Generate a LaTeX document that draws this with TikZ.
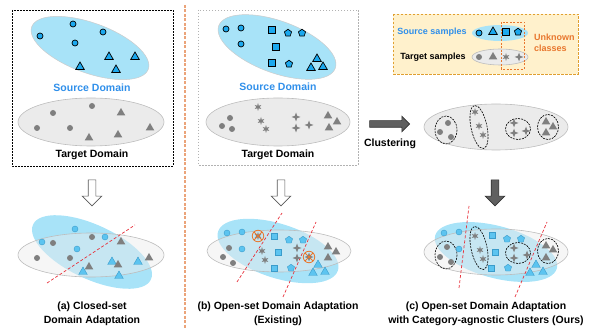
\documentclass[tikz,border=0pt]{standalone}
\usepackage{fontspec}
\setmainfont{Liberation Sans}
\usetikzlibrary{shapes.geometric,shapes.arrows}
\definecolor{srcfill}{HTML}{A8E3F8}
\definecolor{srcmark}{HTML}{1BA8EE}
\definecolor{srcmarkb}{HTML}{5CC4F0}
\definecolor{srcedge}{HTML}{3A9CCB}
\definecolor{tgtfill}{HTML}{EBEBEB}
\definecolor{tgtedge}{HTML}{BDBDBD}
\definecolor{markgray}{HTML}{7F7F7F}
\definecolor{txtblue}{HTML}{2F8FEA}
\definecolor{cutred}{HTML}{E8303A}
\definecolor{orgc}{HTML}{E8772E}
\definecolor{legfill}{HTML}{FFF1CC}
\definecolor{legedge}{HTML}{E0A030}
\definecolor{sepline}{HTML}{EBA47A}
\begin{document}
\begin{tikzpicture}[x=1pt, y=-1pt,
                font=\fontsize{10.5}{12}\selectfont\bfseries,
                mk/.style = {inner sep = 0pt, line width = 0.5pt},
                circ/.style = {mk, circle, minimum size = 6pt},
                tri/.style = {mk, regular polygon, regular polygon sides = 3, minimum size = 10pt},
                sq/.style = {mk, rectangle, minimum size = 6.5pt},
                pent/.style = {mk, regular polygon, regular polygon sides = 5, minimum size = 7.5pt},
                ast/.style = {mk, star, star points = 6, star point ratio = 2.6, minimum size = 8pt},
                spark/.style = {mk, star, star points = 4, star point ratio = 2.8, minimum size = 9pt},
                src/.style = {draw = black, fill = srcmark, line width = 0.7pt},
                srcb/.style = {draw = srcedge, fill = srcmarkb, line width = 0.4pt},
                tgt/.style = {fill = markgray},
                srcell/.style = {fill = srcfill, draw = gray!40, line width = 0.5pt},
                tgtell/.style = {fill = tgtfill, draw = tgtedge, line width = 0.6pt},
                mixell/.style = {fill = tgtfill, fill opacity = 0.45, draw = tgtedge, line width = 0.6pt},
                clus/.style = {draw = black, line width = 0.6pt, dash pattern = on 2pt off 1pt},
                cut/.style = {draw = cutred, line width = 0.7pt, dash pattern = on 3pt off 2pt},
                oring/.style = {circle, draw = orgc, line width = 0.8pt, minimum size = 11.5pt, inner sep = 0pt,
                    path picture = {\draw[orgc, line width = 0.8pt]
                        (path picture bounding box.south west) -- (path picture bounding box.north east)
                        (path picture bounding box.north west) -- (path picture bounding box.south east);}},
                hollowarr/.style = {single arrow, draw = gray!70!black, fill = white, line width = 0.6pt,
                    inner sep = 3.5pt, single arrow head extend = 6pt, minimum height = 26pt, rotate = -90},
                darkarr/.style = {single arrow, draw = black!80, fill = gray!75!black, line width = 0.6pt,
                    inner sep = 3.5pt, single arrow head extend = 6pt, minimum height = 26pt},
                srctxt/.style = {text = txtblue},
                captxt/.style = {align = center, font = \fontsize{10.5}{13.5}\selectfont\bfseries},
                small/.style = {font = \fontsize{9}{11}\selectfont\bfseries},
            ]
            \useasboundingbox (0,0) rectangle (591,328);

            % (a) closed-set, top
            \draw[line width = 0.6pt, dash pattern = on 2pt off 1pt] (12,10) rectangle (173,166);
            \draw[srcell, rotate around = {-20:(90,48)}] (90,48) ellipse [x radius = 62, y radius = 25];
            \draw[tgtell] (91,122) ellipse [x radius = 73, y radius = 24];
            \foreach \x/\y [count=\i] in {73/24, 40/36, 103/32, 75/43}
                \node (ac\i) [circ, src] at (\x,\y) {};
            \foreach \x/\y [count=\i] in {109/57, 135/57, 80/67, 116/70}
                \node (at\i) [tri, src] at (\x,\y) {};
            \foreach \x/\y [count=\i] in {53/113, 92/106, 37/128, 70/128}
                \node (ad\i) [circ, tgt] at (\x,\y) {};
            \foreach \x/\y [count=\i] in {121/113, 150/128, 89/138, 118/135}
                \node (ag\i) [tri, tgt] at (\x,\y) {};
            \node (srcA) [srctxt] at (92,88) {Source Domain};
            \node (tgtA) at (92,155) {Target Domain};

            % separator
            \draw[sepline, line width = 1.2pt, dash pattern = on 3pt off 1.5pt] (185,5) -- (185,328);

            % (b) open-set, top
            \draw[gray!60, line width = 0.5pt, dash pattern = on 1.5pt off 1.5pt] (198,10) rectangle (358,165);
            \draw[srcell, rotate around = {-20:(277,47)}] (277,47) ellipse [x radius = 62, y radius = 26];
            \draw[tgtell] (278,122) ellipse [x radius = 72, y radius = 24];
            \foreach \x/\y [count=\i] in {226/29, 241/28, 241/44}
                \node (bc\i) [circ, src] at (\x,\y) {};
            \foreach \x/\y [count=\i] in {272/30, 276/47, 272/63}
                \node (bs\i) [sq, src] at (\x,\y) {};
            \foreach \x/\y [count=\i] in {288/33, 302/33, 289/64}
                \node (bp\i) [pent, src] at (\x,\y) {};
            \foreach \x/\y [count=\i] in {317/59, 311/68, 323/67}
                \node (bt\i) [tri, src] at (\x,\y) {};
            \foreach \x/\y [count=\i] in {230/118, 222/126, 232/129}
                \node (bd\i) [circ, tgt] at (\x,\y) {};
            \foreach \x/\y [count=\i] in {258/107, 261/121, 266/129}
                \node (ba\i) [ast, tgt] at (\x,\y) {};
            \foreach \x/\y [count=\i] in {296/117, 296/128, 309/125}
                \node (bk\i) [spark, tgt] at (\x,\y) {};
            \foreach \x/\y [count=\i] in {328/116, 337/122, 329/128}
                \node (bg\i) [tri, tgt] at (\x,\y) {};
            \node (srcB) [srctxt] at (278,87) {Source Domain};
            \node (tgtB) at (278,155) {Target Domain};

            % legend
            \draw[fill = legfill, draw = legedge, line width = 0.7pt, dash pattern = on 2.5pt off 1.5pt] (393,14) rectangle (578,74);
            \fill[srcfill] (500,33) ellipse [x radius = 28, y radius = 8];
            \draw[tgtell] (500,57) ellipse [x radius = 28, y radius = 8];
            \node (lsrc) [small, srctxt] at (432,32) {Source samples};
            \node (ltgt) [small] at (433,57) {Target samples};
            \node (lc) [circ, src] at (479,33) {};
            \node (lt) [tri, src] at (493,32) {};
            \node (ls) [sq, src] at (506,32) {};
            \node (lp) [pent, src] at (518,32) {};
            \node (ld) [circ, tgt] at (479,57) {};
            \node (lg) [tri, tgt] at (493,57) {};
            \node (la) [ast, tgt] at (506,57) {};
            \node (lk) [spark, tgt] at (519,57) {};
            \draw[orgc, line width = 0.8pt, dash pattern = on 2pt off 1.5pt] (501,22) rectangle (524,69);
            \node (unk) [small, text = orgc, align = left, anchor = west, inner sep = 0pt] at (534,42.5) {Unknown\\classes};

            % clustering
            \node (clarr) [darkarr, minimum height = 40pt, inner sep = 3pt, single arrow head extend = 4.5pt] at (388,124) {};
            \node (clust) at (390,144) {Clustering};
            \draw[tgtell] (496,127) ellipse [x radius = 72, y radius = 23];
            \draw[clus] (446,130) ellipse [x radius = 11, y radius = 14];
            \draw[clus, rotate around = {12:(479,127)}] (479,127) ellipse [x radius = 8, y radius = 22];
            \draw[clus] (518,129) ellipse [x radius = 12.5, y radius = 10.5];
            \draw[clus] (548,127) ellipse [x radius = 10.5, y radius = 12.5];
            \foreach \x/\y [count=\i] in {448/123, 440/132, 451/137}
                \node (kd\i) [circ, tgt] at (\x,\y) {};
            \foreach \x/\y [count=\i] in {475/112, 479/126, 483/135}
                \node (ka\i) [ast, tgt] at (\x,\y) {};
            \foreach \x/\y [count=\i] in {514/123, 514/133, 526/131}
                \node (kk\i) [spark, tgt] at (\x,\y) {};
            \foreach \x/\y [count=\i] in {546/122, 553/127, 546/133}
                \node (kg\i) [tri, tgt] at (\x,\y) {};

            % down arrows
            \node (arrA) [hollowarr] at (92,191) {};
            \node (arrB) [hollowarr] at (281,191) {};
            \node (arrC) [darkarr, rotate = -90] at (495,191) {};

            % (a) closed-set, bottom
            \fill[srcfill, rotate around = {-25:(92,252)}] (92,252) ellipse [x radius = 65, y radius = 27];
            \draw[mixell] (91,255) ellipse [x radius = 73, y radius = 22];
            \coordinate (ca1) at (47,283);
            \coordinate (ca2) at (135,225);
            \draw[cut] (ca1) -- (ca2);
            \foreach \x/\y [count=\i] in {75/229, 42/242, 105/237, 77/249}
                \node (mc\i) [circ, srcb] at (\x,\y) {};
            \foreach \x/\y [count=\i] in {53/243, 92/237, 37/258, 70/258}
                \node (md\i) [circ, tgt] at (\x,\y) {};
            \foreach \x/\y [count=\i] in {112/262, 138/262, 83/272, 119/276}
                \node (mt\i) [tri, srcb] at (\x,\y) {};
            \foreach \x/\y [count=\i] in {121/242, 149/258, 89/267, 118/265}
                \node (mg\i) [tri, tgt] at (\x,\y) {};
            \node (capA) [captxt] at (92,314) {(a) Closed-set\\Domain Adaptation};

            % (b) open-set, bottom
            \fill[srcfill, rotate around = {-18:(278,251)}] (278,251) ellipse [x radius = 63, y radius = 27];
            \draw[mixell] (279,251) ellipse [x radius = 72, y radius = 21];
            \coordinate (cb1) at (237,282);
            \coordinate (cb2) at (282,213);
            \coordinate (cb3) at (283,297);
            \coordinate (cb4) at (316,222);
            \draw[cut] (cb1) -- (cb2);
            \draw[cut] (cb3) -- (cb4);
            \foreach \x/\y [count=\i] in {227/233, 242/232, 242/249}
                \node (nc\i) [circ, srcb] at (\x,\y) {};
            \foreach \x/\y [count=\i] in {274/236, 278/252, 274/268}
                \node (ns\i) [sq, srcb] at (\x,\y) {};
            \foreach \x/\y [count=\i] in {289/240, 303/240, 291/268}
                \node (np\i) [pent, srcb] at (\x,\y) {};
            \foreach \x/\y [count=\i] in {318/265, 313/273, 325/272}
                \node (nt\i) [tri, srcb] at (\x,\y) {};
            \foreach \x/\y [count=\i] in {229/248, 223/257, 233/263}
                \node (nd\i) [circ, tgt] at (\x,\y) {};
            \foreach \x/\y [count=\i] in {258/236, 262/251, 265/260}
                \node (na\i) [ast, tgt] at (\x,\y) {};
            \foreach \x/\y [count=\i] in {297/248, 297/258, 309/257}
                \node (nk\i) [spark, tgt] at (\x,\y) {};
            \foreach \x/\y [count=\i] in {328/247, 336/252, 328/258}
                \node (ng\i) [tri, tgt] at (\x,\y) {};
            \node (x1) [oring] at (na1) {};
            \node (x2) [oring] at (nk3) {};
            \node (capB) [captxt] at (278,314) {(b) Open-set Domain Adaptation\\(Existing)};

            % (c) ours, bottom
            \fill[srcfill, rotate around = {-15:(496,252)}] (496,252) ellipse [x radius = 63, y radius = 26];
            \draw[mixell] (496,252) ellipse [x radius = 72, y radius = 23];
            \coordinate (cc1) at (459,288);
            \coordinate (cc2) at (469,206);
            \coordinate (cc3) at (515,297);
            \coordinate (cc4) at (547,222);
            \draw[cut] (cc1) -- (cc2);
            \draw[cut] (cc3) -- (cc4);
            \draw[clus] (446,255) ellipse [x radius = 11, y radius = 14];
            \draw[clus, rotate around = {12:(479,248)}] (479,248) ellipse [x radius = 8, y radius = 22];
            \draw[clus] (518,253) ellipse [x radius = 12.5, y radius = 10.5];
            \draw[clus] (548,251) ellipse [x radius = 10.5, y radius = 12.5];
            \foreach \x/\y [count=\i] in {444/233, 459/232, 459/249}
                \node (oc\i) [circ, srcb] at (\x,\y) {};
            \foreach \x/\y [count=\i] in {492/235, 495/252, 491/268}
                \node (os\i) [sq, srcb] at (\x,\y) {};
            \foreach \x/\y [count=\i] in {507/239, 521/239, 508/268}
                \node (op\i) [pent, srcb] at (\x,\y) {};
            \foreach \x/\y [count=\i] in {536/265, 530/273, 543/272}
                \node (ot\i) [tri, srcb] at (\x,\y) {};
            \foreach \x/\y [count=\i] in {447/247, 440/257, 451/262}
                \node (od\i) [circ, tgt] at (\x,\y) {};
            \foreach \x/\y [count=\i] in {475/236, 480/250, 483/259}
                \node (oa\i) [ast, tgt] at (\x,\y) {};
            \foreach \x/\y [count=\i] in {514/248, 514/258, 527/255}
                \node (ok\i) [spark, tgt] at (\x,\y) {};
            \foreach \x/\y [count=\i] in {546/246, 553/250, 546/258}
                \node (og\i) [tri, tgt] at (\x,\y) {};
            \node (capC) [captxt] at (486,314) {(c) Open-set Domain Adaptation\\with Category-agnostic Clusters (Ours)};
        \end{tikzpicture}
\end{document}
